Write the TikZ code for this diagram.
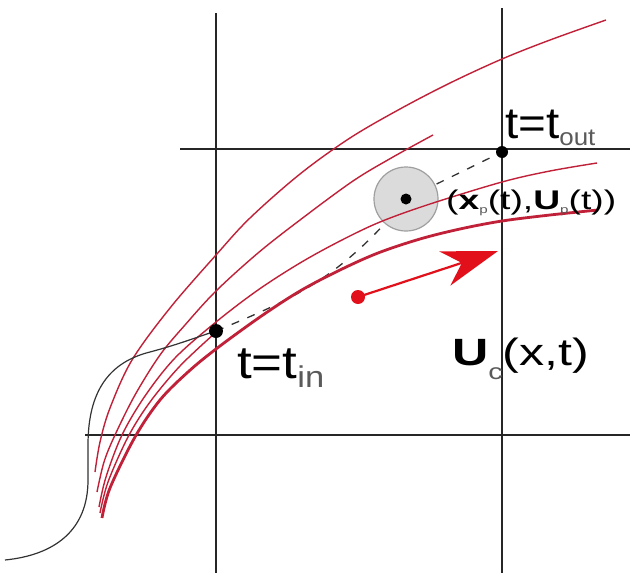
\documentclass[tikz,border=0pt]{standalone}
\usepackage{fontspec}
\setmainfont{Liberation Sans}
\usetikzlibrary{arrows.meta}
\definecolor{curvered}{RGB}{192,32,56}
\definecolor{arrowred}{RGB}{226,16,26}
\definecolor{subgray}{RGB}{90,90,90}
\begin{document}
\begin{tikzpicture}[x=1pt,y=-1pt,
  gridline/.style={line width=1.3pt, black!85},
  redcurve/.style={line width=1.4pt, curvered},
  thickcurve/.style={line width=2.8pt, curvered},
  pathcurve/.style={line width=1.2pt, black!80},
  dashpath/.style={line width=1.3pt, black!80, dash pattern=on 8pt off 9pt},
  blackdot/.style={circle, fill=black, inner sep=0pt, minimum size=13pt},
  particle/.style={circle, fill=gray!28, draw=gray!75, line width=1.2pt, minimum size=64pt, inner sep=0pt},
  label/.style={inner sep=0pt, text=black}]
\useasboundingbox (0,0) rectangle (630,573);
\fill[white] (0,0) rectangle (630,573);

% grid
\coordinate (v1t) at (216,13);  \coordinate (v1b) at (216,573);
\coordinate (v2t) at (502,8);   \coordinate (v2b) at (502,573);
\coordinate (h1l) at (180,149); \coordinate (h1r) at (630,149);
\coordinate (h2l) at (85,435);  \coordinate (h2r) at (630,435);
\draw[gridline] (v1t) -- (v1b);
\draw[gridline] (v2t) -- (v2b);
\draw[gridline] (h1l) -- (h1r);
\draw[gridline] (h2l) -- (h2r);

% key points
\coordinate (tin) at (216,331);
\coordinate (tout) at (502,152);
\coordinate (pc) at (406,199);

% dashed particle path
\draw[dashpath] (tin) .. controls (290,300) and (340,280) .. (pc);
\draw[dashpath] (pc) -- (tout);

% particle circle
\node[particle] (pcirc) at (pc) {};

% red curves
\draw[redcurve] plot[smooth, tension=0.55] coordinates {(95,472) (100,442) (110,408) (132,360) (170,308) (216,255) (250,218) (300,174) (350,138) (400,109) (450,83) (502,59) (550,40) (606,20)};
\draw[redcurve] plot[smooth, tension=0.55] coordinates {(97,492) (104,462) (115,435) (135,395) (160,355) (185,325) (216,291) (258,253) (300,220) (353,181) (393,157) (433,135)};
\draw[redcurve] plot[smooth, tension=0.55] coordinates {(99,507) (106,477) (122,435) (145,396) (175,358) (216,322) (258,290) (300,263) (340,241) (380,222) (430,204) (502,182) (550,171) (597,163)};
\draw[redcurve] plot[smooth, tension=0.55] coordinates {(100,513) (108,482) (128,437) (150,402) (180,366) (214,334)};
\draw[thickcurve] plot[smooth, tension=0.55] coordinates {(102,518) (110,488) (135,437) (160,400) (188,372) (216,349) (260,317) (300,291) (340,270) (378,253) (420,239) (460,229) (502,221) (550,215) (598,210)};

% black trajectory before entering
\draw[pathcurve] (5,560) .. controls (55,555) and (88,530) .. (88,480) -- (88,445) .. controls (88,390) and (110,362) .. (150,352) .. controls (180,344) and (200,336) .. (tin);

% dots
\node[blackdot, minimum size=14pt] (dotin) at (tin) {};
\node[blackdot, minimum size=12pt] (dotout) at (tout) {};
\node[blackdot, minimum size=11pt] (dotp) at (pc) {};

% red arrow
\node[circle, fill=arrowred, inner sep=0pt, minimum size=14pt] (rdot) at (358,297) {};
\coordinate (rtip) at (498,251);
\draw[arrowred, line width=2.2pt, -{Stealth[length=56pt, width=36pt, inset=18pt]}] (rdot.center) -- (rtip);

% labels
\node[label, anchor=base west] (lout) at (505,138) {\scalebox{1.08}[1]{\fontsize{44}{44}\selectfont t=t\raisebox{-7pt}{\fontsize{24}{24}\selectfont\color{subgray}out}}};
\node[label, anchor=base west] (lin) at (237,378) {\scalebox{1.15}[1]{\fontsize{46}{46}\selectfont t=t\raisebox{-9pt}{\fontsize{30}{30}\selectfont\color{subgray}in}}};
\node[label, anchor=west] (lp) at (446,203) {\scalebox{1.38}[1]{\fontsize{27}{27}\selectfont (\textbf{x}\raisebox{-4pt}{\fontsize{11}{11}\selectfont\color{subgray}p}(t),\textbf{U}\raisebox{-4pt}{\fontsize{11}{11}\selectfont\color{subgray}p}(t))}};
\node[label, anchor=base west] (lu) at (452,365) {\scalebox{1.32}[1]{\fontsize{38}{38}\selectfont\textbf{U}\raisebox{-14pt}{\fontsize{22}{22}\selectfont\color{subgray}c}(x,t)}};
\end{tikzpicture}
\end{document}
